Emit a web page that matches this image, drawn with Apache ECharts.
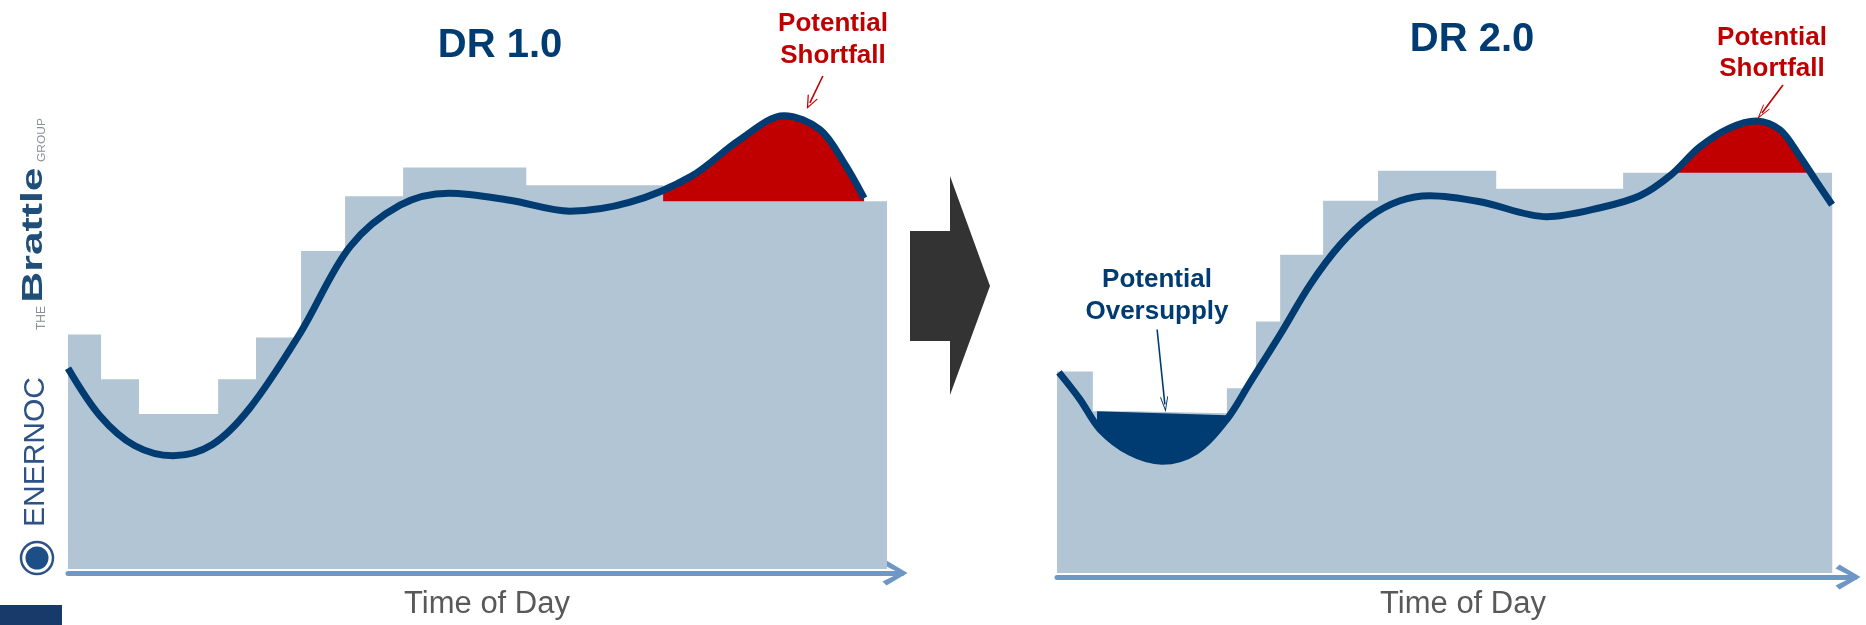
<!DOCTYPE html>
<html>
<head>
<meta charset="utf-8">
<title>DR 1.0 / DR 2.0</title>
<script src="https://cdn.jsdelivr.net/npm/echarts@6/dist/echarts.min.js"></script>
<style>
  html, body { margin: 0; padding: 0; background: #fff; }
  #chart { width: 1866px; height: 625px; }
</style>
</head>
<body>
<div id="chart"></div>
<script>
// DR 1.0: supply steps (hour edges and levels) and the load curve
var dr1StepEdges = [0, 0.97, 2.08, 4.4, 5.51, 6.83, 8.12, 9.82, 13.43, 17.44, 24];
var dr1StepLevels = [47.2, 38.2, 31.2, 38.2, 46.6, 64, 75, 80.8, 77.2, 74];
var dr1LoadHours = [0, 0.94, 1.96, 3.08, 4.22, 5.33, 6.8, 8.26, 9.73, 11.16, 12.95, 14.71, 16.47, 18.26, 19.69, 20.98, 22.04, 22.77, 23.33];
var dr1Load = [40.4, 30.8, 24.8, 22.8, 25.0, 32.4, 47.4, 64.8, 73.2, 75.6, 74.2, 72.0, 73.8, 79.0, 86.4, 91.2, 88.4, 81.4, 74.6];
var dr1ShortfallFrom = 16.4;

// DR 2.0
var dr2StepEdges = [0, 1.11, 2.29, 5.26, 6.16, 6.91, 8.24, 9.94, 13.6, 17.53, 24];
var dr2StepLevels = [40.4, 32.4, 32.0, 37.0, 50.4, 63.8, 74.6, 80.6, 77.0, 80.2];
var dr2LoadHours = [0.06, 0.71, 1.33, 2.26, 3.25, 4.3, 5.26, 5.98, 6.91, 7.84, 8.77, 9.69, 10.62, 11.55, 13.1, 15.17, 16.82, 18.05, 18.98, 19.91, 20.84, 21.65, 22.39, 23.01, 23.54, 24.0];
var dr2Load = [40.2, 34.8, 28.8, 24.2, 22.4, 24.4, 30.8, 38.2, 47.8, 57.8, 65.8, 71.4, 74.6, 75.6, 74.4, 71.4, 73.2, 75.6, 79.6, 85.4, 89.2, 90.6, 88.8, 83.4, 78.2, 73.8];
var dr2ShortfallFrom = 17.8;
var dr2OversupplyHours = [1.24, 5.26];
var dr2OversupplyLevels = [32.4, 31.6];
var dr2OversupplyTo = 7.0;

var navy = '#003c71';
var barColor = '#b2c5d5';
var red = '#c00000';
var axisBlue = '#6f97c6';
var font = '"Liberation Sans", Arial, sans-serif';
var chevron = 'path://M12.5,0 L25,21 L21,25 L12.5,8 L4,25 L0,21 Z';
var caret = 'path://M10,0 L20,18 L18.2,19 L10,4.5 L1.8,19 L0,18 Z';
var smooth = 0.33;

function steps(edges, levels) {
  return edges.map(function(e, i) { return [e, levels[Math.min(i, levels.length - 1)]]; });
}
function pts(hours, vals) {
  return hours.map(function(h, i) { return [h, vals[i]]; });
}
function between(hours, vals, from, to) {
  return pts(hours, vals).filter(function(p) { return p[0] >= from && p[0] <= to; });
}

function xAxis(idx, max, gap, pad) {
  return {
    type: 'value', gridIndex: idx, min: 0, max: max, offset: 4,
    axisLine: {
      show: true, onZero: false,
      lineStyle: { color: axisBlue, width: 5 },
      symbol: ['none', chevron], symbolSize: [25, 26], symbolOffset: [0, -7]
    },
    axisTick: { show: false }, axisLabel: { show: false }, splitLine: { show: false },
    name: 'Time of Day', nameLocation: 'middle', nameGap: gap,
    nameTextStyle: { color: '#595959', fontSize: 31, fontFamily: font, padding: pad }
  };
}
function yAxis(idx) {
  return { type: 'value', gridIndex: idx, min: 0, max: 100, show: false };
}

var chart = echarts.init(document.getElementById('chart'), null, { renderer: 'canvas' });
chart.setOption({
  animation: false,
  backgroundColor: '#fff',
  grid: [
    { left: 68, width: 834, top: 72, height: 500 },
    { left: 1057, width: 798, top: 74, height: 500 }
  ],
  xAxis: [xAxis(0, 24.44, 16, [0, 0, 0, 4]), xAxis(1, 24.71, 12, [0, 0, 0, 14])],
  yAxis: [yAxis(0), yAxis(1)],
  series: [
    // DR 1.0
    { type: 'line', xAxisIndex: 0, yAxisIndex: 0, z: 1, smooth: smooth, symbol: 'none',
      lineStyle: { width: 0 }, areaStyle: { color: red, opacity: 1 },
      data: between(dr1LoadHours, dr1Load, dr1ShortfallFrom, 99) },
    { type: 'line', xAxisIndex: 0, yAxisIndex: 0, z: 2, step: 'end', symbol: 'none',
      lineStyle: { width: 0, color: barColor }, areaStyle: { color: barColor, opacity: 1 },
      data: steps(dr1StepEdges, dr1StepLevels) },
    { type: 'line', xAxisIndex: 0, yAxisIndex: 0, z: 5, smooth: smooth, symbol: 'none',
      lineStyle: { width: 7, color: navy },
      data: pts(dr1LoadHours, dr1Load),
      markLine: {
        silent: true, animation: false, symbol: ['none', caret], symbolSize: [11, 14],
        label: { show: false }, lineStyle: { color: red, width: 1.6, type: 'solid' },
        data: [[{ coord: [22.12, 99.2] }, { coord: [21.74, 93.8] }]]
      } },
    // DR 2.0
    { type: 'line', xAxisIndex: 1, yAxisIndex: 1, z: 1, smooth: smooth, symbol: 'none',
      lineStyle: { width: 0 }, areaStyle: { color: red, opacity: 1 },
      data: between(dr2LoadHours, dr2Load, dr2ShortfallFrom, 99) },
    { type: 'line', xAxisIndex: 1, yAxisIndex: 1, z: 2, step: 'end', symbol: 'none',
      lineStyle: { width: 0, color: barColor }, areaStyle: { color: barColor, opacity: 1 },
      data: steps(dr2StepEdges, dr2StepLevels) },
    { type: 'line', xAxisIndex: 1, yAxisIndex: 1, z: 3, symbol: 'none',
      lineStyle: { width: 0 }, areaStyle: { color: navy, opacity: 1 },
      data: pts(dr2OversupplyHours, dr2OversupplyLevels) },
    { type: 'line', xAxisIndex: 1, yAxisIndex: 1, z: 4, smooth: smooth, symbol: 'none',
      lineStyle: { width: 0 }, areaStyle: { color: barColor, opacity: 1 },
      data: between(dr2LoadHours, dr2Load, 0, dr2OversupplyTo) },
    { type: 'line', xAxisIndex: 1, yAxisIndex: 1, z: 5, smooth: smooth, symbol: 'none',
      lineStyle: { width: 7, color: navy },
      data: pts(dr2LoadHours, dr2Load),
      markLine: {
        silent: true, animation: false, symbol: ['none', caret], label: { show: false },
        lineStyle: { width: 1.6, type: 'solid' },
        data: [
          [{ coord: [22.48, 97.8], symbolSize: [11, 14], lineStyle: { color: red } }, { coord: [21.83, 92.2], lineStyle: { color: red } }],
          [{ coord: [3.1, 48.8], symbolSize: [16, 17], lineStyle: { color: navy } }, { coord: [3.34, 33.8], lineStyle: { color: navy } }]
        ]
      } }
  ],
  graphic: [
    { type: 'text', x: 500, y: 46, style: { text: 'DR 1.0', font: 'bold 40px ' + font, fill: navy, align: 'center', verticalAlign: 'middle' } },
    { type: 'text', x: 1472, y: 40, style: { text: 'DR 2.0', font: 'bold 40px ' + font, fill: navy, align: 'center', verticalAlign: 'middle' } },
    { type: 'text', x: 833, y: 40, style: { text: 'Potential\nShortfall', font: 'bold 26px ' + font, lineHeight: 32, fill: red, align: 'center', verticalAlign: 'middle' } },
    { type: 'text', x: 1772, y: 53, style: { text: 'Potential\nShortfall', font: 'bold 26px ' + font, lineHeight: 31, fill: red, align: 'center', verticalAlign: 'middle' } },
    { type: 'text', x: 1157, y: 296, style: { text: 'Potential\nOversupply', font: 'bold 26px ' + font, lineHeight: 32, fill: navy, align: 'center', verticalAlign: 'middle' } },
    // transition arrow
    { type: 'polygon', shape: { points: [[910, 231], [950, 231], [950, 176], [990, 286], [950, 395], [950, 341], [910, 341]] }, style: { fill: '#333333' } },
    // logos
    { type: 'text', x: 47, y: 140, rotation: Math.PI / 2, scaleX: 1.2, style: { text: 'GROUP', font: '10px ' + font, fill: '#8a8f99', align: 'center', verticalAlign: 'bottom' } },
    { type: 'text', x: 49, y: 235, rotation: Math.PI / 2, scaleX: 1.42, style: { text: 'Brattle', font: 'bold 30px ' + font, fill: '#1f4e79', align: 'center', verticalAlign: 'bottom' } },
    { type: 'text', x: 48, y: 318, rotation: Math.PI / 2, style: { text: 'THE', font: '12px ' + font, fill: '#8a8f99', align: 'center', verticalAlign: 'bottom' } },
    { type: 'text', x: 36, y: 452, rotation: Math.PI / 2, style: { text: 'ENERNOC', font: '30px ' + font, fill: '#2c5286', align: 'center', verticalAlign: 'middle' } },
    { type: 'circle', shape: { cx: 37, cy: 558, r: 16 }, style: { fill: 'none', stroke: '#2c5286', lineWidth: 2.5 } },
    { type: 'circle', shape: { cx: 37, cy: 558, r: 11.5 }, style: { fill: '#1d4f86' } },
    { type: 'rect', shape: { x: 0, y: 605, width: 62, height: 20 }, style: { fill: '#173a6a' } }
  ]
});
window.addEventListener('resize', function() { chart.resize(); });
</script>
</body>
</html>
